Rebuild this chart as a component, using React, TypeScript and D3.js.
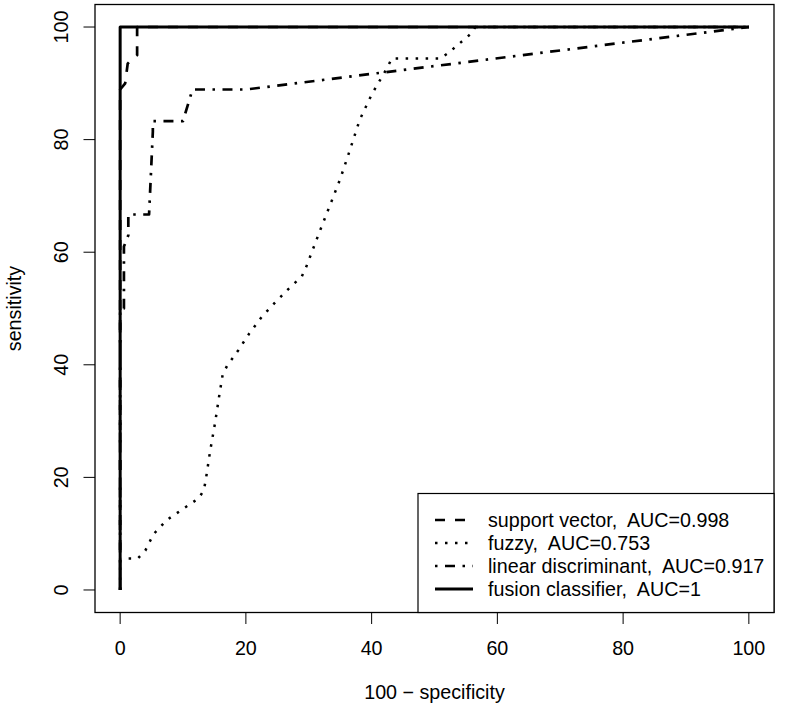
import React from "react";
import * as d3 from "d3";

// ---- Data ----
type Pt = [number, number];

const seriesNames = [
  "support vector,  AUC=0.998",
  "fuzzy,  AUC=0.753",
  "linear discriminant,  AUC=0.917",
  "fusion classifier,  AUC=1",
];

const supportVector: Pt[] = [
  [0, 0], [0, 88.9], [0.8, 90], [1.2, 93.5], [2, 94.4], [2.7, 95], [2.7, 100], [100, 100],
];

const fuzzy: Pt[] = [
  [0, 0], [0, 5.6], [2.8, 5.6], [4, 7], [5.3, 9.9], [7.4, 12.4], [10, 14.4], [12.5, 16.3],
  [13.3, 17.7], [13.6, 19.4], [14.3, 24.6], [15.1, 29.7], [15.8, 34.8], [16.3, 38.2],
  [17, 39.8], [18.8, 42.6], [20.5, 45.5], [22.5, 48.5], [24.5, 50.9], [26.7, 53.4],
  [28.9, 55.7], [29.6, 57.4], [31.5, 63], [33.5, 68.7], [35, 73], [36.5, 78], [38.1, 83.5],
  [40, 88], [42.5, 92.8], [43.2, 94.4], [50.9, 94.4], [52.2, 95.4], [55.8, 98.8],
  [56.5, 100], [100, 100],
];

const linearDiscriminant: Pt[] = [
  [0, 0], [0, 50], [0.6, 50], [0.6, 61], [1.3, 63], [1.3, 66.7], [4.6, 66.7], [5.2, 81.4],
  [5.2, 83.3], [10, 83.3], [11.5, 88.9], [20, 88.9], [100, 100],
];

const fusion: Pt[] = [
  [0, 0], [0, 100], [100, 100],
];

const xTicks = [0, 20, 40, 60, 80, 100];
const yTicks = [0, 20, 40, 60, 80, 100];

const xTitle = "100 \u2212 specificity";
const yTitle = "sensitivity";

// ---- Layout ----
const W = 794;
const H = 715;
const plotLeft = 95;
const plotRight = 774;
const plotTop = 4.5;
const plotBottom = 612.5;
const font = "'Liberation Sans', Arial, Helvetica, sans-serif";
const fontSize = 19.7;
const lw = 2.7;

const styles = [
  { dash: "10 10", width: lw },
  { dash: "2.5 7.5", width: 2.5 },
  { dash: "2.5 7.5 10 7.5", width: lw },
  { dash: "none", width: 3 },
];

export default function App() {
  React.useEffect(() => {
    document.body.style.margin = "0";
  }, []);

  const x = d3.scaleLinear().domain([-4, 104]).range([plotLeft, plotRight]);
  const y = d3.scaleLinear().domain([-4, 104]).range([plotBottom, plotTop]);
  const line = d3
    .line<Pt>()
    .x((d) => x(d[0]))
    .y((d) => y(d[1]));

  const series = [supportVector, fuzzy, linearDiscriminant, fusion];

  const legLeft = 418;
  const legTop = 493.5;
  const rowY = [520, 543, 566, 589];
  const sampleX0 = 435;
  const sampleX1 = 473;
  const textX = 488;

  return (
    <svg
      width={W}
      height={H}
      style={{ display: "block", background: "#fff", whiteSpace: "pre" }}
      fontFamily={font}
    >
      <rect x={0} y={0} width={W} height={H} fill="#fff" />
      {/* curves */}
      <g fill="none" stroke="#000" strokeLinecap="butt" strokeLinejoin="round">
        {series.map((s, i) => (
          <path
            key={i}
            d={line(s) || ""}
            strokeWidth={styles[i].width}
            strokeDasharray={styles[i].dash}
          />
        ))}
      </g>
      {/* plot box */}
      <rect
        x={plotLeft}
        y={plotTop}
        width={plotRight - plotLeft}
        height={plotBottom - plotTop}
        fill="none"
        stroke="#000"
        strokeWidth={1.3}
      />
      {/* x axis */}
      <g>
        {xTicks.map((t) => (
          <g key={t}>
            <line x1={x(t)} x2={x(t)} y1={plotBottom} y2={plotBottom + 11.5} stroke="#000" strokeWidth={1} />
            <text x={x(t)} y={plotBottom + 42} textAnchor="middle" fontSize={fontSize} fill="#000">
              {t}
            </text>
          </g>
        ))}
        <text x={(plotLeft + plotRight) / 2} y={699} textAnchor="middle" fontSize={fontSize} fill="#000">
          {xTitle}
        </text>
      </g>
      {/* y axis */}
      <g>
        {yTicks.map((t) => (
          <g key={t}>
            <line x1={plotLeft} x2={plotLeft - 11.5} y1={y(t)} y2={y(t)} stroke="#000" strokeWidth={1} />
            <text
              transform={`translate(${plotLeft - 27.5},${y(t)}) rotate(-90)`}
              textAnchor="middle"
              fontSize={fontSize}
              fill="#000"
            >
              {t}
            </text>
          </g>
        ))}
        <text
          transform={`translate(21,${(plotTop + plotBottom) / 2}) rotate(-90)`}
          textAnchor="middle"
          fontSize={fontSize}
          fill="#000"
        >
          {yTitle}
        </text>
      </g>
      {/* legend */}
      <g>
        <rect
          x={legLeft}
          y={legTop}
          width={plotRight - legLeft}
          height={plotBottom - legTop}
          fill="#fff"
          stroke="#000"
          strokeWidth={1.2}
        />
        {seriesNames.map((name, i) => (
          <g key={name}>
            <line
              x1={sampleX0}
              x2={sampleX1}
              y1={rowY[i]}
              y2={rowY[i]}
              stroke="#000"
              strokeWidth={styles[i].width}
              strokeDasharray={styles[i].dash}
            />
            <text x={textX} y={rowY[i] + 7} fontSize={fontSize} fill="#000" xmlSpace="preserve">
              {name}
            </text>
          </g>
        ))}
      </g>
    </svg>
  );
}
